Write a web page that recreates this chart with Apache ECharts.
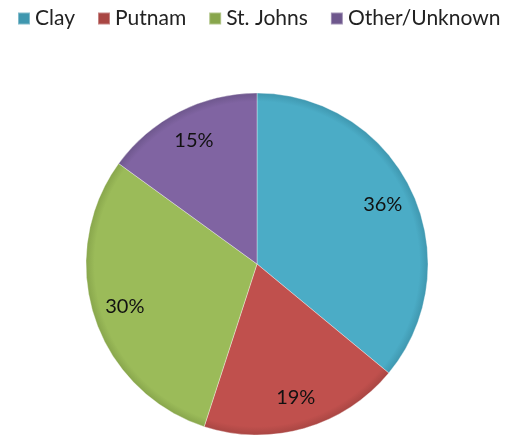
<!DOCTYPE html>
<html><head><meta charset="utf-8">
<script src="https://cdn.jsdelivr.net/npm/echarts@6/dist/echarts.min.js"></script>
<style>html,body{margin:0;padding:0;background:#fff}#c{width:506px;height:438px}</style>
</head><body><div id="c"></div>
<script>
const categories = ['Clay', 'Putnam', 'St. Johns', 'Other/Unknown'];
const values = [36, 19, 30, 15];
const colors = ['#4bacc6', '#c0504d', '#9bbb59', '#8064a2'];
const edge = ['#3f97af', '#a94643', '#88a64c', '#6e578d'];

const chart = echarts.init(document.getElementById('c'));
const fontFamily = 'Lato, "Noto Sans", sans-serif';
const CX = 257, CY = 264, R = 171;
function grad(i){
  return {type:'radial', x:CX, y:CY, r:R, global:true, colorStops:[
    {offset:0, color:colors[i]}, {offset:0.95, color:colors[i]}, {offset:1, color:edge[i]}]};
}
chart.setOption({
  animation:false,
  legend:{
    top:3, left:12, itemWidth:12, itemHeight:12, itemGap:22, icon:'rect',
    textStyle:{fontFamily, fontSize:21, color:'#222'},
    data:categories
  },
  series:[
    {type:'pie', center:[CX,CY], radius:[0,R], startAngle:90, clockwise:true,
     label:{show:false}, labelLine:{show:false},
     itemStyle:{borderColor:'rgba(255,255,255,0.35)', borderWidth:1},
     data:categories.map((c,i)=>({name:c, value:values[i], itemStyle:{color:grad(i)}}))},
    {type:'pie', center:[CX,CY], radius:[0,272], startAngle:90, clockwise:true, silent:true,
     legendHoverLink:false,
     itemStyle:{color:'rgba(0,0,0,0)'},
     label:{show:true, position:'inside', formatter:p=>values[p.dataIndex]+'%', fontFamily, fontSize:20, color:'#111'},
     labelLine:{show:false},
     data:categories.map((c,i)=>({name:c+' ', value:values[i]}))}
  ]
});
</script></body></html>
